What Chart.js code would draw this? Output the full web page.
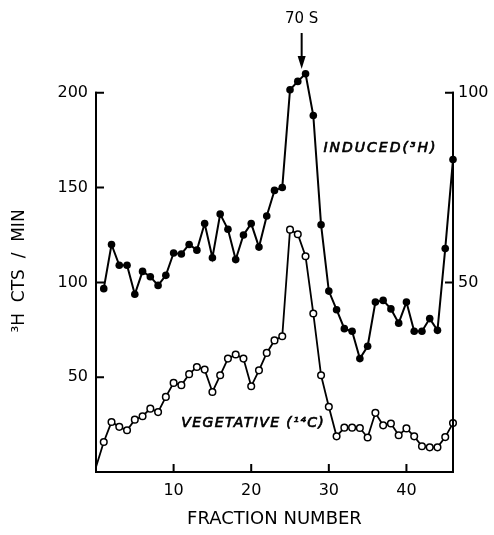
<!DOCTYPE html>
<html>
<head>
<meta charset="utf-8">
<script src="https://cdn.jsdelivr.net/npm/chart.js@4.4.1/dist/chart.umd.min.js"></script>
<style>
    body { margin: 0; background: #fff; }
    .chart-container { position: relative; width: 494px; height: 535px; }
</style>
</head>
<body>
<div class="chart-container"><canvas id="fractionChart"></canvas></div>
<script>
// fraction numbers and counts
const inducedFractions = [1, 2, 3, 4, 5, 6, 7, 8, 9, 10, 11, 12, 13, 14, 15, 16, 17, 18, 19, 20, 21, 22, 23,
    24, 25, 26, 27, 28, 29, 30, 31, 32, 33, 34, 35, 36, 37, 38, 39, 40, 41, 42, 43, 44, 45, 46];
const inducedCounts = [96.7, 120, 109, 109, 93.7, 105.8, 103, 98.4, 103.7, 115.5, 115, 120, 117, 131, 113, 136,
    128, 112, 125, 131, 118.6, 135, 148.5, 150, 201.6, 206, 210, 188, 130.4, 95.4, 85.6, 75.6, 74.2, 59.8,
    66.3, 89.6, 90.5, 86, 78.5, 89.6, 74.2, 74.2, 80.9, 74.7, 117.8, 164.8];

const vegetativeFractions = [0, 1, 2, 3, 4, 5, 6, 7, 8, 9, 10, 11, 12, 13, 14, 15, 16, 17, 18, 19, 20, 21, 22, 23,
    24, 25, 26, 27, 28, 29, 30, 31, 32, 33, 34, 35, 36, 37, 38, 39, 40, 41, 42, 43, 44, 45, 46];
// 14C counts, right-hand axis
const vegetativeCounts = [1.3, 7.9, 13.2, 11.9, 11, 13.8, 14.7, 16.7, 15.8, 19.8, 23.5, 22.9, 25.8, 27.7, 27,
    21.1, 25.5, 29.9, 31, 29.9, 22.6, 26.8, 31.4, 34.7, 35.8, 63.9, 62.7, 56.9, 41.8, 25.5, 17.2, 9.4, 11.7,
    11.7, 11.6, 9.1, 15.6, 12.3, 12.8, 9.7, 11.5, 9.4, 6.8, 6.5, 6.5, 9.2, 12.9];

const fractionTicks = [10, 20, 30, 40];
const leftTicks = [50, 100, 150, 200];
const rightTicks = [50, 100];

const peakFraction = 26.5;

document.addEventListener('DOMContentLoaded', () => {
    Chart.defaults.font.family = '"DejaVu Sans", sans-serif';
    Chart.defaults.color = '#000';

    // axis lines up to the top tick, inward tick marks, arrow and curve labels
    const extras = {
        id: 'extras',
        afterDraw(chart) {
            const ctx = chart.ctx;
            const x = chart.scales.x, y = chart.scales.y, y1 = chart.scales.y1;
            const area = chart.chartArea;
            const len = 8;
            ctx.save();
            ctx.strokeStyle = '#000';
            ctx.lineWidth = 2;
            ctx.lineCap = 'square';
            ctx.beginPath();
            ctx.moveTo(area.left, y.getPixelForValue(0));
            ctx.lineTo(area.left, y.getPixelForValue(leftTicks[leftTicks.length - 1]));
            ctx.moveTo(area.right, y1.getPixelForValue(0));
            ctx.lineTo(area.right, y1.getPixelForValue(rightTicks[rightTicks.length - 1]));
            ctx.stroke();
            ctx.lineCap = 'butt';
            ctx.beginPath();
            x.ticks.forEach(t => {
                const px = x.getPixelForValue(t.value);
                ctx.moveTo(px, area.bottom);
                ctx.lineTo(px, area.bottom - len);
            });
            y.ticks.forEach(t => {
                const py = y.getPixelForValue(t.value);
                ctx.moveTo(area.left - 1, py);
                ctx.lineTo(area.left + len, py);
            });
            y1.ticks.forEach(t => {
                const py = y1.getPixelForValue(t.value);
                ctx.moveTo(area.right + 1, py);
                ctx.lineTo(area.right - len, py);
            });
            ctx.stroke();

            // 70 S arrow
            const ax = x.getPixelForValue(peakFraction);
            const aTop = y.getPixelForValue(231.5);
            const aTip = y.getPixelForValue(212.5);
            ctx.beginPath();
            ctx.moveTo(ax, aTop);
            ctx.lineTo(ax, aTip - 10);
            ctx.stroke();
            ctx.beginPath();
            ctx.moveTo(ax - 4, aTip - 13);
            ctx.lineTo(ax + 4, aTip - 13);
            ctx.lineTo(ax, aTip);
            ctx.closePath();
            ctx.fillStyle = '#000';
            ctx.fill();

            ctx.textAlign = 'center';
            ctx.textBaseline = 'middle';
            ctx.font = '15px "DejaVu Sans"';
            ctx.fillText('70 S', ax, y.getPixelForValue(239));

            // italic curve labels, thickened a little with a thin stroke
            ctx.textAlign = 'left';
            ctx.font = 'italic 14px "DejaVu Sans"';
            ctx.lineWidth = 0.7;
            ctx.letterSpacing = '2px';
            const ix = x.getPixelForValue(29.3), iy = y.getPixelForValue(170.6);
            ctx.fillText('INDUCED(³H)', ix, iy);
            ctx.strokeText('INDUCED(³H)', ix, iy);
            ctx.letterSpacing = '1.4px';
            const vx = x.getPixelForValue(11), vy = y1.getPixelForValue(12.8);
            ctx.fillText('VEGETATIVE (¹⁴C)', vx, vy);
            ctx.strokeText('VEGETATIVE (¹⁴C)', vx, vy);
            ctx.restore();
        }
    };

    const ctx1 = document.getElementById('fractionChart').getContext('2d');
    new Chart(ctx1, {
        type: 'line',
        data: {
            datasets: [{
                label: 'Induced (3H)',
                data: inducedFractions.map((f, i) => ({ x: f, y: inducedCounts[i] })),
                yAxisID: 'y',
                borderColor: '#000',
                borderWidth: 2,
                backgroundColor: '#000',
                pointRadius: 3.8,
                pointBorderWidth: 0,
                tension: 0,
                clip: false
            }, {
                label: 'Vegetative (14C)',
                data: vegetativeFractions.map((f, i) => ({ x: f, y: vegetativeCounts[i] })),
                yAxisID: 'y1',
                borderColor: '#000',
                borderWidth: 1.8,
                backgroundColor: '#fff',
                pointBackgroundColor: '#fff',
                pointBorderColor: '#000',
                pointBorderWidth: 1.5,
                pointRadius: vegetativeFractions.map(f => f === 0 ? 0 : 3.3),
                tension: 0,
                clip: false
            }]
        },
        options: {
            responsive: true,
            maintainAspectRatio: false,
            animation: false,
            layout: { padding: { top: 70, left: 0, right: 0, bottom: 0 } },
            scales: {
                x: {
                    type: 'linear',
                    min: 0,
                    max: 46,
                    afterBuildTicks: s => { s.ticks = fractionTicks.map(v => ({ value: v })); },
                    afterFit: s => { s.height = 63; },
                    grid: { display: false, drawTicks: false },
                    border: { display: true, color: '#000', width: 2 },
                    ticks: { font: { size: 16 }, padding: 9, maxRotation: 0 },
                    title: {
                        display: true,
                        text: 'FRACTION NUMBER',
                        font: { size: 18 },
                        padding: { top: 0, bottom: 5 }
                    }
                },
                y: {
                    type: 'linear',
                    position: 'left',
                    min: 0,
                    max: 212,
                    afterBuildTicks: s => { s.ticks = leftTicks.map(v => ({ value: v })); },
                    afterFit: s => { s.width = 96; },
                    grid: { display: false, drawTicks: false },
                    border: { display: false },
                    ticks: { font: { size: 16 }, padding: 8 },
                    title: {
                        display: true,
                        text: '³H  CTS  /  MIN',
                        font: { size: 17 },
                        padding: { top: 9, bottom: 0 }
                    }
                },
                y1: {
                    type: 'linear',
                    position: 'right',
                    min: 0,
                    max: 106,
                    afterBuildTicks: s => { s.ticks = rightTicks.map(v => ({ value: v })); },
                    afterFit: s => { s.width = 41; },
                    grid: { display: false, drawTicks: false },
                    border: { display: false },
                    ticks: { font: { size: 16 }, padding: 5 }
                }
            },
            plugins: {
                legend: { display: false },
                tooltip: { enabled: false }
            }
        },
        plugins: [extras]
    });
});
</script>
</body>
</html>
